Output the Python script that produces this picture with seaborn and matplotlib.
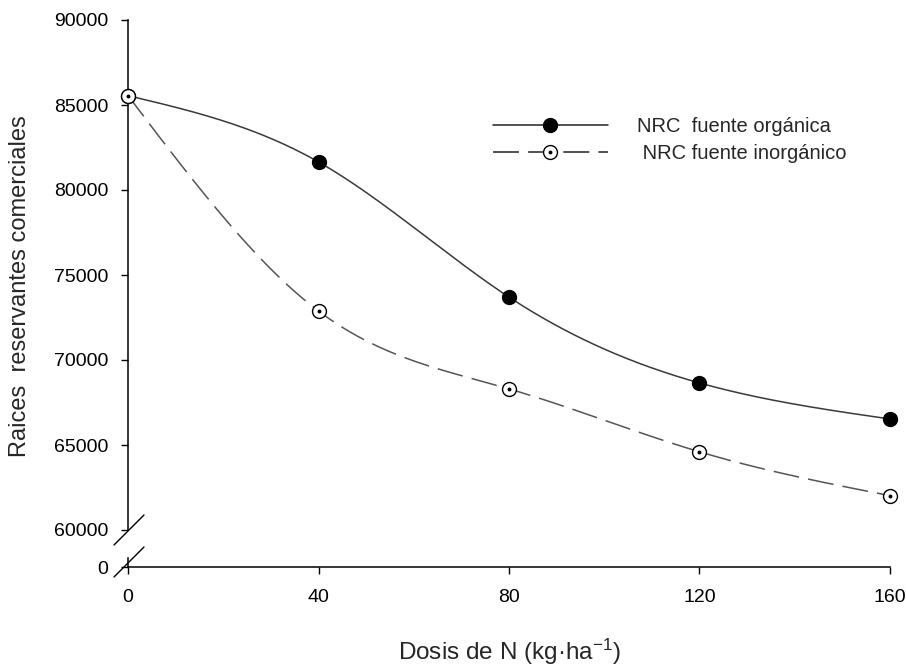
import numpy as np
import pandas as pd
import matplotlib
matplotlib.use('Agg')
import matplotlib.pyplot as plt
from matplotlib.lines import Line2D
from matplotlib.legend_handler import HandlerTuple
import seaborn as sns

# data
dosis = [0, 40, 80, 120, 160]
nrc_organica = [85550, 81650, 73700, 68650, 66530]
nrc_inorganica = [85550, 72880, 68300, 64600, 62020]
xticks = [0, 40, 80, 120, 160]
yticks = [60000, 65000, 70000, 75000, 80000, 85000, 90000]
lab_org = 'NRC  fuente orgánica'
lab_inorg = ' NRC fuente inorgánico'

sns.set_style('ticks')
plt.rcParams['font.family'] = ['Liberation Sans', 'DejaVu Sans']
plt.rcParams['mathtext.fontset'] = 'custom'
plt.rcParams['mathtext.rm'] = 'Liberation Sans'
plt.rcParams['mathtext.it'] = 'Liberation Sans:italic'


def natural_spline(x, y, n=300):
    # smooth curve through the points, like the original plot software
    x = np.asarray(x, float)
    y = np.asarray(y, float)
    h = np.diff(x)
    m = len(x)
    A = np.zeros((m, m))
    b = np.zeros(m)
    A[0, 0] = A[-1, -1] = 1
    for i in range(1, m - 1):
        A[i, i - 1] = h[i - 1]
        A[i, i] = 2 * (h[i - 1] + h[i])
        A[i, i + 1] = h[i]
        b[i] = 3 * ((y[i + 1] - y[i]) / h[i] - (y[i] - y[i - 1]) / h[i - 1])
    c = np.linalg.solve(A, b)
    xs = np.linspace(x[0], x[-1], n)
    idx = np.clip(np.searchsorted(x, xs, side='right') - 1, 0, m - 2)
    dx = xs - x[idx]
    bc = (y[1:] - y[:-1]) / h - h * (2 * c[:-1] + c[1:]) / 3
    d = (c[1:] - c[:-1]) / (3 * h)
    ys = y[idx] + bc[idx] * dx + c[idx] * dx ** 2 + d[idx] * dx ** 3
    return xs, ys


W, H = 906, 669


def fx(px):
    return px / W


def fy(py):
    return 1 - py / H


fig = plt.figure(figsize=(W / 100, H / 100), dpi=100)
ax = fig.add_axes([fx(128), fy(530), (890 - 128) / W, (530 - 20) / H])
ax0 = fig.add_axes([fx(128), fy(567), (890 - 128) / W, (567 - 558) / H])

# curves
xs, ys = natural_spline(dosis, nrc_organica)
curve_org = pd.DataFrame({'x': xs, 'y': ys})
xs, ys = natural_spline(dosis, nrc_inorganica)
curve_inorg = pd.DataFrame({'x': xs, 'y': ys})

sns.lineplot(data=curve_org, x='x', y='y', ax=ax, color='#3a3a3a', lw=1.1,
             sort=False, estimator=None)
sns.lineplot(data=curve_inorg, x='x', y='y', ax=ax, color='#555555', lw=1.1,
             linestyle=(0, (17, 6)), sort=False, estimator=None)

# markers
m_org, = ax.plot(dosis, nrc_organica, 'o', ms=10, mfc='black', mec='black',
                 clip_on=False, zorder=4)
m_inorg, = ax.plot(dosis, nrc_inorganica, 'o', ms=10, mfc='white', mec='black',
                   mew=1.0, clip_on=False, zorder=5)
m_dot, = ax.plot(dosis, nrc_inorganica, 'o', ms=1.8, color='black',
                 clip_on=False, zorder=6)

h_org = Line2D([], [], color='#222222', lw=1.1)
h_inorg = Line2D([], [], color='#222222', lw=1.1, linestyle=(0, (17, 6)))
ax.legend([(h_org, m_org), (h_inorg, m_inorg, m_dot)], [lab_org, lab_inorg],
          handler_map={tuple: HandlerTuple(ndivide=1)},
          loc='center left', bbox_to_anchor=(0.479, 0.765),
          frameon=False, borderpad=0, borderaxespad=0, handlelength=5.7,
          handletextpad=1.45, labelspacing=0.38, fontsize=14.5)

# upper axes
ax.set_xlim(0, 160)
ax.set_ylim(60000, 90000)
ax.set_yticks(yticks)
ax.set_yticklabels([str(t) for t in yticks])
ax.set_xticks([])
ax.set_xlabel('')
ax.set_ylabel('')
for s in ['top', 'right', 'bottom']:
    ax.spines[s].set_visible(False)
ax.spines['left'].set_linewidth(1.1)
ax.spines['left'].set_color('black')
ax.tick_params(axis='y', direction='out', length=5, width=1, labelsize=14,
               pad=9, colors='black')
ax.patch.set_alpha(0)

# lower axes
ax0.set_xlim(0, 160)
ax0.set_ylim(0, 1)
ax0.set_yticks([0])
ax0.set_xticks(xticks)
ax0.set_xticklabels([str(t) for t in xticks])
for s in ['top', 'right']:
    ax0.spines[s].set_visible(False)
for s in ['left', 'bottom']:
    ax0.spines[s].set_linewidth(1.1)
    ax0.spines[s].set_color('black')
ax0.tick_params(axis='y', direction='out', length=5, width=1, labelsize=14,
                pad=9, colors='black')
ax0.tick_params(axis='x', direction='out', length=5, width=1, labelsize=14,
                pad=11, colors='black')
ax0.patch.set_alpha(0)

# axis break marks
fig.add_artist(Line2D([fx(114), fx(144)], [fy(545), fy(515)],
                      transform=fig.transFigure, color='black', lw=1))
fig.add_artist(Line2D([fx(114), fx(144)], [fy(577), fy(547)],
                      transform=fig.transFigure, color='black', lw=1))

fig.text(fx(20), fy(286), 'Raices  reservantes comerciales', rotation=90,
         ha='center', va='center', fontsize=17)
fig.text(fx(509), fy(652), 'Dosis de N (kg·ha$^{-1}$)', ha='center',
         va='center', fontsize=17.5)

fig.savefig('out.png', dpi=100)
